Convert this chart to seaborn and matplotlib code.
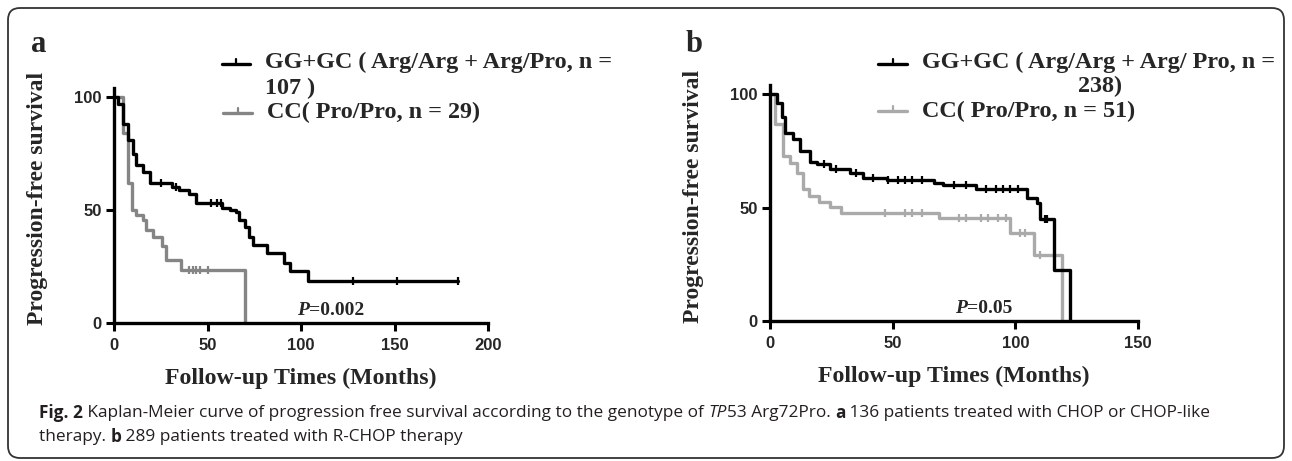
import numpy as np
import pandas as pd
import matplotlib
matplotlib.use("Agg")
import matplotlib.pyplot as plt
import seaborn as sns
from matplotlib import font_manager
from matplotlib.patches import FancyBboxPatch
from matplotlib.lines import Line2D

# =========================================================
# DATA
# =========================================================

# panel a : CHOP / CHOP-like
a_gg_t = [0, 2.3, 5, 7.7, 10.3, 12, 15.7, 19, 31, 35, 40, 44, 58, 62, 65.5, 67, 70, 72, 74.4, 81.6, 91, 94, 104, 184]
a_gg_s = [100, 97, 88, 81, 75, 70, 67, 62, 60, 59, 57, 53, 51, 50, 49, 45.6, 42.6, 38, 34.6, 31, 26.5, 23, 18.4, 18.4]
a_gg_cens = [25, 33, 52, 55, 57, 128, 151.6, 184]

a_cc_t = [0, 5, 7.7, 9.4, 12, 15.7, 17, 21, 25.5, 28, 36, 70.3]
a_cc_s = [100, 84, 62, 50, 48, 45.6, 41, 38, 34, 28, 23.5, 0]
a_cc_cens = [40, 42, 44, 46, 50]

# panel b : R-CHOP
b_gg_t = [0, 2.7, 4.8, 6.1, 9.5, 12.2, 16.3, 19, 24.5, 32.7, 38, 47.6, 66.7, 70.7, 84, 104.8, 109, 110, 115.6, 122.4]
b_gg_s = [100, 96, 90, 83, 80, 75, 70, 69, 67, 65, 63, 62, 61, 60, 58, 54, 52, 45, 22.5, 0]
b_gg_cens = [22, 27, 35, 42, 48, 52, 55, 58, 62, 75, 80, 88, 92, 95, 98, 101, 112, 113]

b_cc_t = [0, 2, 5.4, 8, 11, 13.6, 16, 20, 24.5, 29, 68.7, 98, 107.5, 119]
b_cc_s = [100, 87, 72.5, 69.6, 65, 58, 55, 52.6, 50.4, 47.5, 45.3, 38.7, 29, 0]
b_cc_cens = [47, 55, 58, 62, 77, 80, 86, 89, 93, 96, 102, 104, 110]

a_xticks = [0, 50, 100, 150, 200]
b_xticks = [0, 50, 100, 150]
yticks = [0, 50, 100]

# =========================================================
# STYLE
# =========================================================

sns.set_style("ticks")
installed = {f.name for f in font_manager.fontManager.ttflist}
SERIF = "Liberation Serif"
TICKFONT = "Liberation Sans Narrow" if "Liberation Sans Narrow" in installed else "Liberation Sans"
CAPFONT = "Open Sans"
plt.rcParams["font.family"] = [SERIF, "DejaVu Sans"]

W, H = 1292, 461
fig = plt.figure(figsize=(W / 100, H / 100), dpi=100)
renderer = fig.canvas.get_renderer()


def fx(x):
    return x / W


def fy(y):
    return 1 - y / H


def text_run(x, y, pieces, **common):
    # draw pieces of text one after the other on one line
    for s, kw in pieces:
        t = fig.text(fx(x), fy(y), s, ha="left", va="center", **common, **kw)
        x += t.get_window_extent(renderer=renderer).width
    return x


def km(ax, t, s, cens, color):
    df = pd.DataFrame({"t": t, "s": s})
    sns.lineplot(data=df, x="t", y="s", drawstyle="steps-post", color=color,
                 lw=2.4, estimator=None, ax=ax)
    idx = np.searchsorted(t, cens, side="right") - 1
    ax.plot(cens, np.array(s)[idx], ls="none", marker="|", ms=6, mew=1.6, color=color)


def style_axes(ax, xmax, xticks):
    ax.set_xlim(0, xmax)
    ax.set_ylim(0, 104)
    ax.set_xticks(xticks)
    ax.set_yticks(yticks)
    ax.set_xlabel("")
    ax.set_ylabel("")
    sns.despine(ax=ax)
    for sp in ["left", "bottom"]:
        ax.spines[sp].set_linewidth(2.4)
        ax.spines[sp].set_color("black")
    ax.tick_params(width=2.2, length=6, color="black", pad=3)
    ax.tick_params(axis="x", pad=5)
    for lab in ax.get_xticklabels() + ax.get_yticklabels():
        lab.set_fontfamily(TICKFONT)
        lab.set_fontweight("bold")
        lab.set_fontsize(12)


GRAY_A = "#858585"
GRAY_B = "#aaaaaa"

# =========================================================
# PANEL A
# =========================================================
ax_a = fig.add_axes([fx(114), fy(323), (488 - 114) / W, (323 - 88) / H])
km(ax_a, a_cc_t, a_cc_s, a_cc_cens, GRAY_A)
km(ax_a, a_gg_t, a_gg_s, a_gg_cens, "black")
style_axes(ax_a, 200, a_xticks)

# =========================================================
# PANEL B
# =========================================================
ax_b = fig.add_axes([fx(770), fy(321), (1138 - 770) / W, (321 - 85) / H])
km(ax_b, b_cc_t, b_cc_s, b_cc_cens, GRAY_B)
km(ax_b, b_gg_t, b_gg_s, b_gg_cens, "black")
style_axes(ax_b, 150, b_xticks)

# =========================================================
# TEXT
# =========================================================
bold = dict(fontweight="bold", fontfamily=SERIF)
fig.text(fx(39), fy(44), "a", ha="center", va="center", fontsize=22, **bold)
fig.text(fx(694), fy(44), "b", ha="center", va="center", fontsize=22, **bold)

for x, y in [(38, 198), (694, 196)]:
    fig.text(fx(x), fy(y), "Progression-free survival", rotation=90, ha="center",
             va="center", fontsize=17, **bold)
fig.text(fx(301), fy(378), "Follow-up Times (Months)", ha="center", va="center", fontsize=17.2, **bold)
fig.text(fx(954), fy(376), "Follow-up Times (Months)", ha="center", va="center", fontsize=17.2, **bold)

# legends
LEG = 17.4
fig.text(fx(265), fy(62), "GG+GC ( Arg/Arg + Arg/Pro, n =", fontsize=LEG, va="center", **bold)
fig.text(fx(265), fy(88), "107 )", fontsize=LEG, va="center", **bold)
fig.text(fx(267), fy(112), "CC( Pro/Pro, n = 29)", fontsize=LEG, va="center", **bold)
fig.text(fx(922), fy(62), "GG+GC ( Arg/Arg + Arg/ Pro, n =", fontsize=LEG, va="center", **bold)
fig.text(fx(1100), fy(86), "238)", fontsize=LEG, va="center", ha="center", **bold)
fig.text(fx(922), fy(111), "CC( Pro/Pro, n = 51)", fontsize=LEG, va="center", **bold)

for x0, x1, y, c in [(222, 250, 64, "black"), (223, 252, 113, GRAY_A),
                     (878, 907, 64, "black"), (878, 907, 111, GRAY_B)]:
    fig.add_artist(Line2D([fx(x0), fx(x1)], [fy(y), fy(y)], color=c, lw=2.4,
                          transform=fig.transFigure))
    xm = (x0 + x1) / 2
    fig.add_artist(Line2D([fx(xm), fx(xm)], [fy(y), fy(y - 5)], color=c, lw=1.6,
                          transform=fig.transFigure))

# p-values
text_run(297, 310, [("P", dict(fontstyle="italic")), ("=0.002", {})], fontsize=14,
         fontweight="bold", fontfamily=SERIF)
text_run(955, 308, [("P", dict(fontstyle="italic")), ("=0.05", {})], fontsize=14,
         fontweight="bold", fontfamily=SERIF)

# caption
cap = dict(fontsize=12.4, fontfamily=CAPFONT, color="#231f20")
text_run(39, 413, [
    ("Fig. 2", dict(fontweight="bold")),
    (" Kaplan-Meier curve of progression free survival according to the genotype of ", {}),
    ("TP", dict(fontstyle="italic")),
    ("53 Arg72Pro. ", {}),
    ("a", dict(fontweight="bold")),
    (" 136 patients treated with CHOP or CHOP-like", {}),
], **cap)
text_run(39, 437, [
    ("therapy. ", {}),
    ("b", dict(fontweight="bold")),
    (" 289 patients treated with R-CHOP therapy", {}),
], **cap)

# rounded frame round the whole figure
fig.add_artist(FancyBboxPatch((8, 3), W - 16, H - 11, boxstyle="round,pad=0,rounding_size=12",
                              transform=None, fill=False, ec="#333333", lw=1.3))

fig.savefig("out.png", dpi=100)
